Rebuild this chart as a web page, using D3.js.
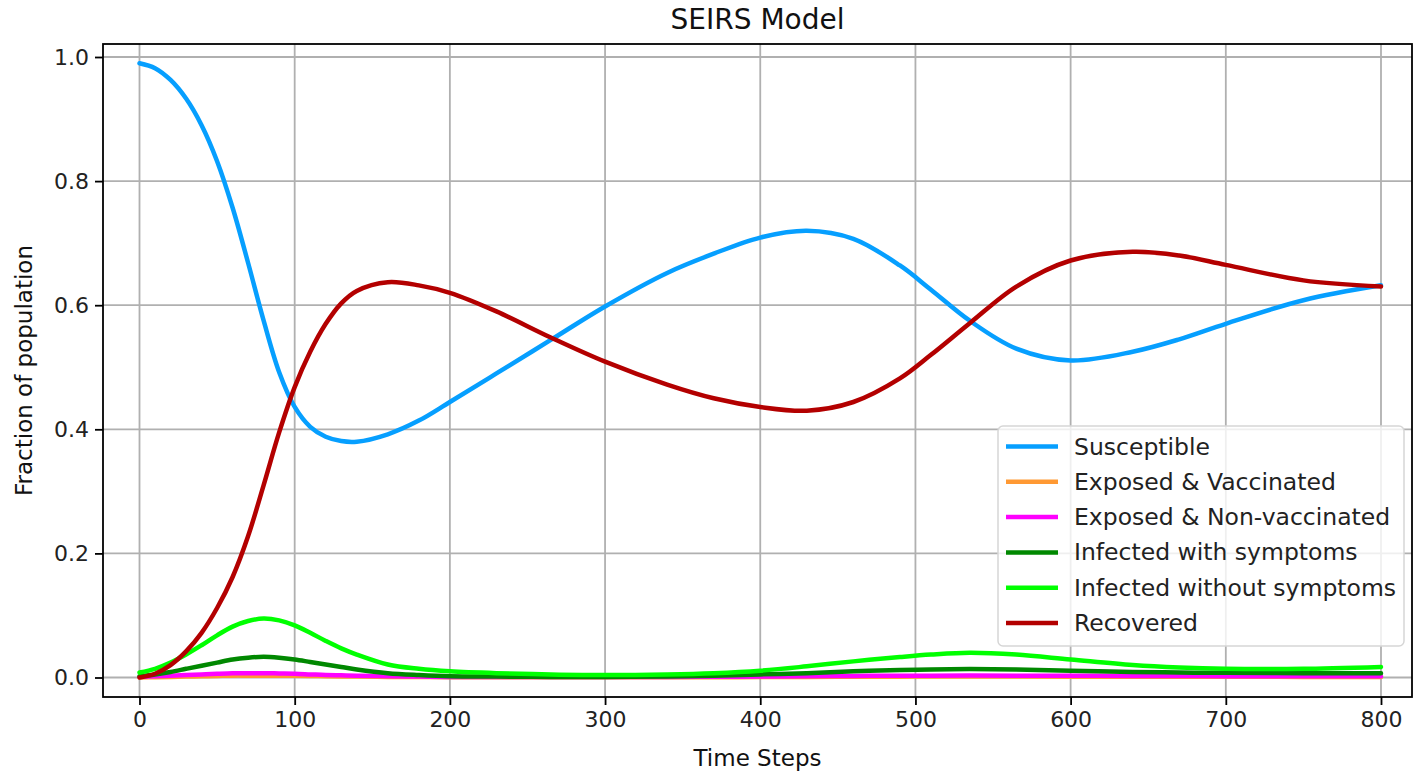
<!DOCTYPE html>
<html>
<head>
<meta charset="utf-8">
<script src="https://cdn.jsdelivr.net/npm/d3@7"></script>
<style>
  body { margin: 0; background: #fff; }
  svg { font-family: "DejaVu Sans", sans-serif; }
</style>
</head>
<body>
<div id="body"></div>
<script>
var timeSteps = [0,10,20,30,40,50,60,70,80,90,100,110,120,130,140,160,180,200,230,265,300,340,370,400,430,460,490,510,535,565,600,640,670,700,750,800];

var susceptible = [0.99,0.982,0.963,0.933,0.89,0.832,0.757,0.668,0.575,0.492,0.436,0.404,0.388,0.381,0.38,0.392,0.414,0.444,0.49,0.544,0.598,0.652,0.683,0.709,0.72,0.707,0.664,0.625,0.575,0.53,0.511,0.525,0.545,0.57,0.608,0.632];
var exposedVacc = [0,0.0005,0.001,0.0015,0.002,0.0025,0.003,0.003,0.003,0.003,0.0028,0.0025,0.002,0.0017,0.0015,0.001,0.0007,0.0005,0.0004,0.0003,0.0003,0.0004,0.0005,0.0007,0.001,0.0012,0.0014,0.0015,0.0015,0.0015,0.0014,0.0013,0.0012,0.0011,0.001,0.001];
var exposedNonVacc = [0.001,0.002,0.003,0.004,0.005,0.006,0.0068,0.007,0.007,0.0065,0.006,0.005,0.004,0.0035,0.003,0.002,0.0015,0.001,0.001,0.001,0.001,0.001,0.0012,0.0015,0.002,0.0025,0.003,0.003,0.0032,0.003,0.0028,0.0025,0.0023,0.0022,0.002,0.002];
var infectedSym = [0.002,0.005,0.009,0.014,0.019,0.024,0.029,0.032,0.0335,0.032,0.029,0.025,0.021,0.017,0.013,0.007,0.004,0.002,0.0015,0.001,0.001,0.0015,0.003,0.005,0.007,0.01,0.012,0.013,0.0135,0.013,0.011,0.009,0.008,0.0075,0.007,0.007];
var infectedAsym = [0.008,0.014,0.024,0.037,0.052,0.068,0.082,0.091,0.095,0.092,0.084,0.072,0.059,0.047,0.037,0.021,0.014,0.01,0.007,0.005,0.004,0.005,0.007,0.011,0.018,0.026,0.033,0.037,0.04,0.037,0.029,0.02,0.016,0.014,0.014,0.017];
var recovered = [0,0.006,0.02,0.042,0.072,0.112,0.162,0.228,0.31,0.395,0.468,0.525,0.57,0.603,0.623,0.637,0.632,0.62,0.59,0.548,0.509,0.472,0.45,0.436,0.43,0.444,0.482,0.52,0.571,0.63,0.672,0.686,0.68,0.665,0.64,0.63];

var labels = ["Susceptible","Exposed & Vaccinated","Exposed & Non-vaccinated","Infected with symptoms","Infected without symptoms","Recovered"];
var colors = ["#069fff","#ff9933","#ff00ff","#008800","#00ff00","#b30000"];
var xTicks = [0,100,200,300,400,500,600,700,800];
var yTicks = [0,0.2,0.4,0.6,0.8,1.0];

var allSeries = [susceptible, exposedVacc, exposedNonVacc, infectedSym, infectedAsym, recovered];

var W = 1413, H = 774;
var box = {left: 103, right: 1412, top: 44, bottom: 697};

var svg = d3.select("#body").append("svg").attr("width", W).attr("height", H);

var x = d3.scaleLinear().domain([0, 800]).range([139.5, 1381]);
var y = d3.scaleLinear().domain([0, 1]).range([677.5, 57]);

// grid
svg.append("g").selectAll("line").data(xTicks).enter().append("line")
    .attr("x1", function(d){return x(d);}).attr("x2", function(d){return x(d);})
    .attr("y1", box.top).attr("y2", box.bottom)
    .attr("stroke", "#b0b0b0").attr("stroke-width", 1.8);
svg.append("g").selectAll("line").data(yTicks).enter().append("line")
    .attr("y1", function(d){return y(d);}).attr("y2", function(d){return y(d);})
    .attr("x1", box.left).attr("x2", box.right)
    .attr("stroke", "#b0b0b0").attr("stroke-width", 1.8);

// lines
var line = d3.line()
    .x(function(d){return x(d[0]);})
    .y(function(d){return y(d[1]);})
    .curve(d3.curveCatmullRom.alpha(0.5));

svg.append("g").selectAll("path").data(allSeries).enter().append("path")
    .attr("d", function(s){ return line(timeSteps.map(function(t, i){return [t, s[i]];})); })
    .attr("fill", "none")
    .attr("stroke", function(d, i){return colors[i];})
    .attr("stroke-width", 4.5)
    .attr("stroke-linecap", "round");

// axes
var xAxis = svg.append("g").attr("transform", "translate(0," + box.bottom + ")")
    .call(d3.axisBottom(x).tickValues(xTicks).tickSize(8).tickPadding(6).tickFormat(d3.format("d")));
var yAxis = svg.append("g").attr("transform", "translate(" + box.left + ",0)")
    .call(d3.axisLeft(y).tickValues(yTicks).tickSize(8).tickPadding(6).tickFormat(d3.format(".1f")));
[xAxis, yAxis].forEach(function(a){
    a.select(".domain").remove();
    a.selectAll(".tick line").attr("stroke", "#000").attr("stroke-width", 1.8);
    a.selectAll(".tick text").attr("font-size", "22px").attr("fill", "#222")
        .attr("font-family", "DejaVu Sans, sans-serif");
});

// frame
svg.append("rect").attr("x", box.left).attr("y", box.top)
    .attr("width", box.right - box.left).attr("height", box.bottom - box.top)
    .attr("fill", "none").attr("stroke", "#000").attr("stroke-width", 1.8);

// titles
svg.append("text").attr("x", (box.left + box.right) / 2).attr("y", 29)
    .attr("text-anchor", "middle").attr("font-size", "28px").attr("fill", "#111").text("SEIRS Model");
svg.append("text").attr("x", (box.left + box.right) / 2).attr("y", 766)
    .attr("text-anchor", "middle").attr("font-size", "23px").attr("fill", "#111").text("Time Steps");
svg.append("text").attr("transform", "translate(32," + ((box.top + box.bottom) / 2) + ") rotate(-90)")
    .attr("text-anchor", "middle").attr("font-size", "23px").attr("fill", "#111").text("Fraction of population");

// legend
var lg = svg.append("g");
lg.append("rect").attr("x", 998).attr("y", 426).attr("width", 406).attr("height", 220)
    .attr("rx", 5).attr("fill", "#fff").attr("fill-opacity", 0.8)
    .attr("stroke", "#d6d6d6").attr("stroke-width", 1.5);
var rows = lg.selectAll("g.row").data(labels).enter().append("g")
    .attr("transform", function(d, i){return "translate(0," + (446.5 + i * 35.3) + ")";});
rows.append("line").attr("x1", 1006).attr("x2", 1058).attr("y1", 0).attr("y2", 0)
    .attr("stroke", function(d, i){return colors[i];}).attr("stroke-width", 4.5);
rows.append("text").attr("x", 1074).attr("y", 8).attr("font-size", "23.5px").attr("fill", "#222")
    .text(function(d){return d;});
</script>
</body>
</html>
